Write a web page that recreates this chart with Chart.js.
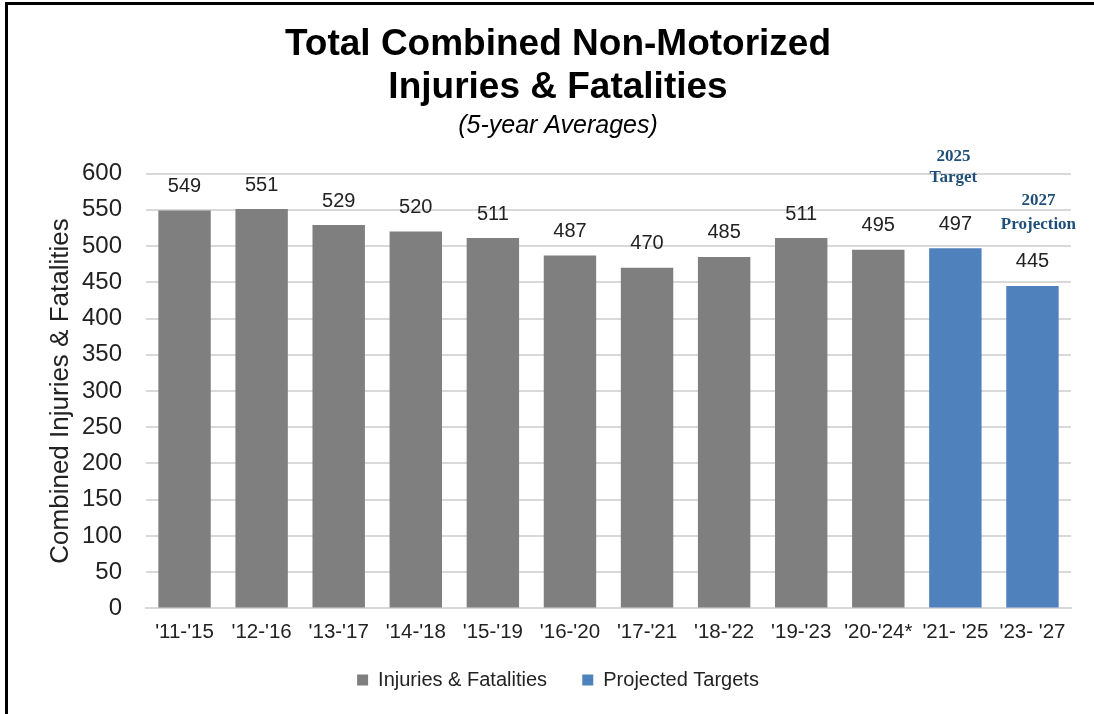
<!DOCTYPE html>
<html>
<head>
<meta charset="utf-8">
<script src="https://cdn.jsdelivr.net/npm/chart.js@4/dist/chart.umd.min.js"></script>
<style>
  html, body { margin: 0; padding: 0; background: #fff; }
  #wrap { position: relative; width: 1094px; height: 714px; }
  #frame {
    position: absolute; left: 5px; top: 2px; right: -10px; bottom: -10px;
    border-left: 3px solid #000; border-top: 3px solid #000;
    pointer-events: none;
  }
</style>
</head>
<body>
<div id="wrap">
  <canvas id="chart" width="1094" height="714"></canvas>
  <div id="frame"></div>
</div>
<script>
// Données : moyennes sur 5 ans
const periods = ["'11-'15", "'12-'16", "'13-'17", "'14-'18", "'15-'19", "'16-'20",
  "'17-'21", "'18-'22", "'19-'23", "'20-'24*", "'21- '25", "'23- '27"]
const injuriesFatalities = [549, 551, 529, 520, 511, 487, 470, 485, 511, 495, null, null]
const projectedTargets = [null, null, null, null, null, null, null, null, null, null, 497, 445]
const yTicks = [0, 50, 100, 150, 200, 250, 300, 350, 400, 450, 500, 550, 600]

const GRAY = '#7f7f7f'
const BLUE = '#4f81bd'
const FONT = 'Liberation Sans, Arial, sans-serif'

// Valeurs au-dessus des barres + notes "2025 Target" / "2027 Projection"
const barLabelsPlugin = {
  id: 'barLabels',
  afterDatasetsDraw(chart, args, opts) {
    const ctx = chart.ctx
    ctx.save()
    ctx.textAlign = 'center'
    ctx.textBaseline = 'middle'
    chart.data.datasets.forEach((ds, di) => {
      const meta = chart.getDatasetMeta(di)
      meta.data.forEach((bar, i) => {
        const v = ds.data[i]
        if (v == null) return
        ctx.fillStyle = '#222'
        ctx.font = '20px ' + FONT
        ctx.fillText(String(v), bar.x, bar.y - 24)
        const note = opts.notes.find((n) => n.index === i)
        if (note) {
          ctx.fillStyle = '#1f4e79'
          ctx.font = 'bold 17px Liberation Serif, Times New Roman, serif'
          note.lines.forEach((line, k) => {
            const y = bar.y - note.offset - (note.lines.length - 1 - k) * note.spacing
            ctx.fillText(line, bar.x + note.dx, y)
          })
        }
      })
    })
    ctx.restore()
  }
}

new Chart(document.getElementById('chart'), {
  type: 'bar',
  data: {
    labels: periods,
    datasets: [
      {
        label: 'Injuries & Fatalities',
        data: injuriesFatalities,
        backgroundColor: GRAY,
        grouped: false
      },
      {
        label: 'Projected Targets',
        data: projectedTargets,
        backgroundColor: BLUE,
        grouped: false
      }
    ]
  },
  plugins: [barLabelsPlugin],
  options: {
    responsive: false,
    animation: false,
    barPercentage: 0.68,
    categoryPercentage: 1,
    layout: {
      padding: { left: 45, right: 23, bottom: 14 }
    },
    plugins: {
      title: {
        display: true,
        text: ['Total Combined Non-Motorized', 'Injuries & Fatalities'],
        color: '#000',
        font: { family: FONT, size: 37, weight: 'bold', lineHeight: 1.16 },
        padding: { top: 23, bottom: 3 }
      },
      subtitle: {
        display: true,
        text: '(5-year Averages)',
        color: '#000',
        font: { family: FONT, size: 25, style: 'italic', lineHeight: 1.15 },
        padding: { top: 0, bottom: 33 }
      },
      legend: {
        position: 'bottom',
        labels: {
          color: '#222',
          font: { family: FONT, size: 20 },
          boxWidth: 11,
          boxHeight: 11,
          padding: 13,
          // un peu d'espace entre les deux entrées
          generateLabels: (chart) => {
            const items = Chart.defaults.plugins.legend.labels.generateLabels(chart)
            items[0].text = items[0].text + '    '
            return items
          }
        }
      },
      tooltip: { enabled: false },
      barLabels: {
        notes: [
          { index: 10, lines: ['2025', 'Target'], offset: 71, spacing: 21, dx: -2 },
          { index: 11, lines: ['2027', 'Projection'], offset: 61, spacing: 24, dx: 6 }
        ]
      }
    },
    scales: {
      x: {
        grid: { display: false, drawTicks: false },
        border: { color: '#d9d9d9', width: 2 },
        ticks: {
          color: '#222',
          font: { family: FONT, size: 20.5 },
          padding: 12,
          maxRotation: 0,
          autoSkip: false
        }
      },
      y: {
        min: 0,
        max: 600,
        afterBuildTicks: (axis) => {
          axis.ticks = yTicks.map((v) => ({ value: v }))
        },
        afterFit: (axis) => {
          axis.width = 101
        },
        grid: { color: '#d9d9d9', lineWidth: 2, drawTicks: false },
        border: { display: false },
        ticks: {
          color: '#222',
          font: { family: FONT, size: 24 },
          padding: 24
        },
        title: {
          display: true,
          text: 'Combined Injuries & Fatalities',
          color: '#222',
          font: { family: FONT, size: 26 },
          padding: { top: 0, bottom: 0 }
        }
      }
    }
  }
})
</script>
</body>
</html>
